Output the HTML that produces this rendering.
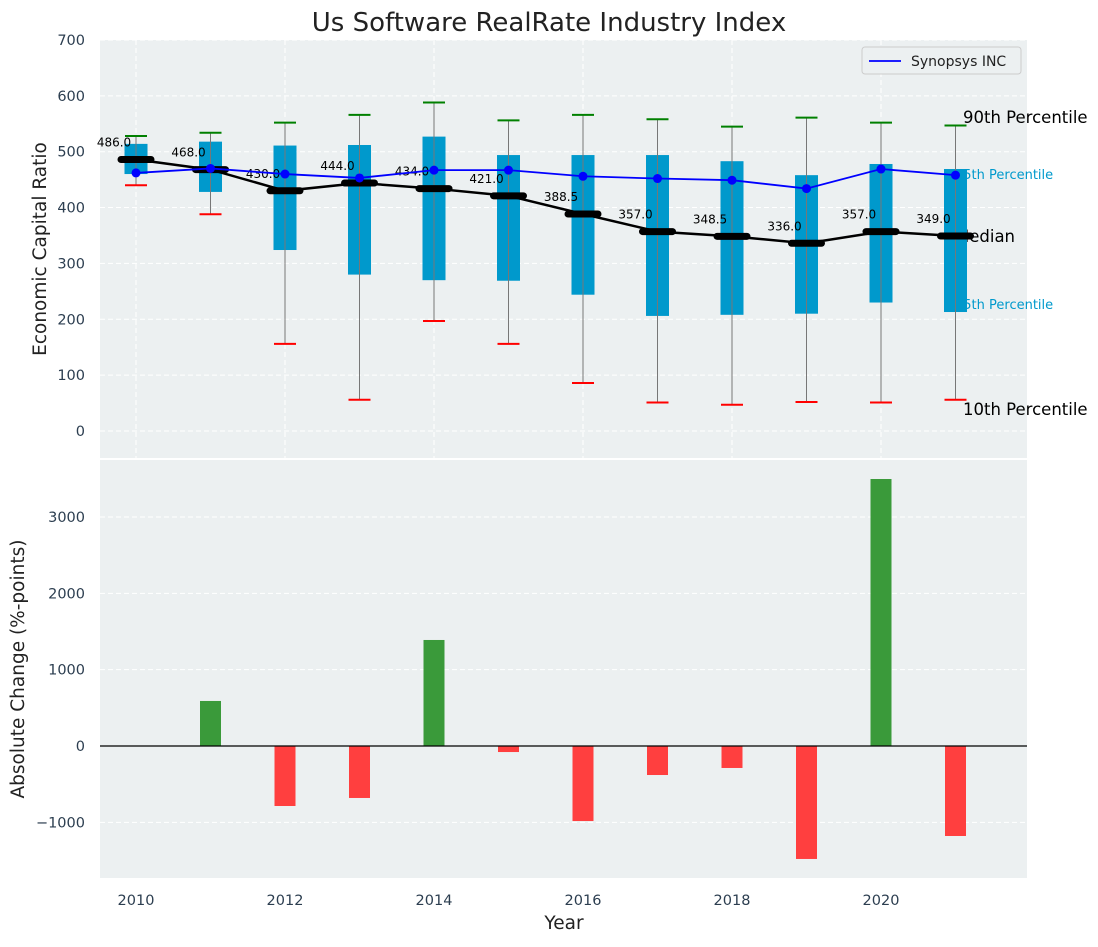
<!DOCTYPE html>
<html><head><meta charset="utf-8"><style>
body{margin:0;background:#fff}
svg text{font-family:"DejaVu Sans","Liberation Sans",sans-serif}
</style></head><body>
<svg id="chart" width="1098" height="942" xmlns="http://www.w3.org/2000/svg">
<text x="549" y="31" text-anchor="middle" font-size="26" fill="#222">Us Software RealRate Industry Index</text>
<g id="topPanel"></g>
<g id="botPanel"></g>
</svg>
<script>
const years=[2010,2011,2012,2013,2014,2015,2016,2017,2018,2019,2020,2021];
const p10=[440,388,156,56,197,156,86,51,47,52,51,56];
const p25=[460,428,324,280,270,269,244,206,208,210,230,213];
const median=[486,468,430,444,434,421,388.5,357,348.5,336,357,349];
const p75=[514,518,511,512,527,494,494,494,483,458,478,469];
const p90=[528,534,552,566,588,556,566,558,545,561,552,547];
const synopsys=[462,470,460,453,467,467,456,452,449,434,469,458];
const change=[0,590,-786,-681,1389,-79,-983,-380,-288,-1480,3498,-1179];
const topTicks=[0,100,200,300,400,500,600,700];
const botTicks=[-1000,0,1000,2000,3000];
const xTicks=[2010,2012,2014,2016,2018,2020];

const NS='http://www.w3.org/2000/svg';
const L=100,R=1027;
const xs=v=>136+(v-2010)*74.5;
const yT=v=>431-v*0.5586;
const yB=v=>746-v*0.07633;
function mk(p,t,a){const el=document.createElementNS(NS,t);for(const k in a)el.setAttribute(k,a[k]);p.appendChild(el);return el;}
const topG=document.getElementById('topPanel'),botG=document.getElementById('botPanel');
let e;

e=mk(topG,'rect',{x:L,y:40,width:R-L,height:418,fill:'#ecf0f1'});


e=mk(botG,'rect',{x:L,y:460,width:R-L,height:418,fill:'#ecf0f1'});



xTicks.forEach(t=>{
 [[40,458],[460,878]].forEach(([a,b])=>mk(topG,'line',{x1:xs(t),x2:xs(t),y1:a,y2:b,stroke:'#fff','stroke-dasharray':'5,3','stroke-width':1}));
 e=mk(botG,'text',{x:xs(t),y:905,'text-anchor':'middle','font-size':14.5,fill:'#2c3e50'});e.textContent=t;
 
 
});
topTicks.forEach(t=>{
 mk(topG,'line',{x1:L,x2:R,y1:yT(t),y2:yT(t),stroke:'#fff','stroke-dasharray':'5,3'});
 e=mk(topG,'text',{x:85,y:yT(t)+5,'text-anchor':'end','font-size':14.5,fill:'#2c3e50'});e.textContent=t;
 
 
});
botTicks.forEach(t=>{
 mk(botG,'line',{x1:L,x2:R,y1:yB(t),y2:yB(t),stroke:'#fff','stroke-dasharray':'5,3'});
 e=mk(botG,'text',{x:85,y:yB(t)+5,'text-anchor':'end','font-size':14.5,fill:'#2c3e50'});e.textContent=(t<0?'\u2212'+(-t):t);
 
 
});

const lab=[['90th Percentile',963,123,16.5,'#000'],['75th Percentile',955,179,13,'#0099cc'],['Median',955,242,16.5,'#000'],['25th Percentile',955,309,13,'#0099cc'],['10th Percentile',963,415,16.5,'#000']];
lab.forEach(l=>{e=mk(topG,'text',{x:l[1],y:l[2],'font-size':l[3],fill:l[4]});e.textContent=l[0];
 
 });

years.forEach((y,i)=>{
 const x=xs(y);
 e=mk(topG,'rect',{x:x-11.5,y:yT(p75[i]),width:23,height:yT(p25[i])-yT(p75[i]),fill:'#0099cc'});
 
 
 mk(topG,'line',{x1:x,x2:x,y1:yT(p90[i]),y2:yT(p10[i]),stroke:'#777','stroke-width':1});
 e=mk(topG,'line',{x1:x-11,x2:x+11,y1:yT(p90[i]),y2:yT(p90[i]),stroke:'green','stroke-width':2});
 
 
 e=mk(topG,'line',{x1:x-11,x2:x+11,y1:yT(p10[i]),y2:yT(p10[i]),stroke:'red','stroke-width':2});
 
 
});
e=mk(topG,'polyline',{points:years.map((y,i)=>xs(y)+','+yT(median[i])).join(' '),fill:'none',stroke:'#000','stroke-width':2.5});


years.forEach((y,i)=>{
 e=mk(topG,'line',{x1:xs(y)-15,x2:xs(y)+15,y1:yT(median[i]),y2:yT(median[i]),stroke:'#000','stroke-width':7,'stroke-linecap':'round'});
 
 
 e=mk(topG,'text',{x:xs(y)-22,y:yT(median[i])-13,'text-anchor':'middle','font-size':12,fill:'#000'});e.textContent=median[i].toFixed(1);
 
 
});
e=mk(topG,'polyline',{points:years.map((y,i)=>xs(y)+','+yT(synopsys[i])).join(' '),fill:'none',stroke:'#0000ff','stroke-width':1.8});


years.forEach((y,i)=>{e=mk(topG,'circle',{cx:xs(y),cy:yT(synopsys[i]),r:4.5,fill:'#0000ff'});
 
 });

e=mk(topG,'rect',{x:862,y:47,width:159,height:27,fill:'#ecf0f1',stroke:'#ccc',rx:3});


mk(topG,'line',{x1:869,x2:901,y1:61,y2:61,stroke:'#0000ff','stroke-width':1.8});
e=mk(topG,'text',{x:911,y:66,'font-size':14,fill:'#222'});e.textContent='Synopsys INC';



years.forEach((y,i)=>{
 const v=change[i];if(v===0)return;
 e=mk(botG,'rect',{x:xs(y)-10.5,y:Math.min(yB(v),yB(0)),width:21,height:Math.abs(yB(v)-yB(0)),fill:v>0?'#3a9a3a':'#ff3f3f'});
 
 
});
mk(botG,'line',{x1:L,x2:R,y1:yB(0),y2:yB(0),stroke:'#000','stroke-width':1.3});

e=mk(topG,'text',{transform:'translate(46,249) rotate(-90)','text-anchor':'middle','font-size':18.5,fill:'#222'});e.textContent='Economic Capital Ratio';


e=mk(botG,'text',{transform:'translate(24,669) rotate(-90)','text-anchor':'middle','font-size':18.5,fill:'#222'});e.textContent='Absolute Change (%-points)';


e=mk(botG,'text',{x:564,y:929,'text-anchor':'middle','font-size':18.5,fill:'#222'});e.textContent='Year';


</script>
</body></html>
